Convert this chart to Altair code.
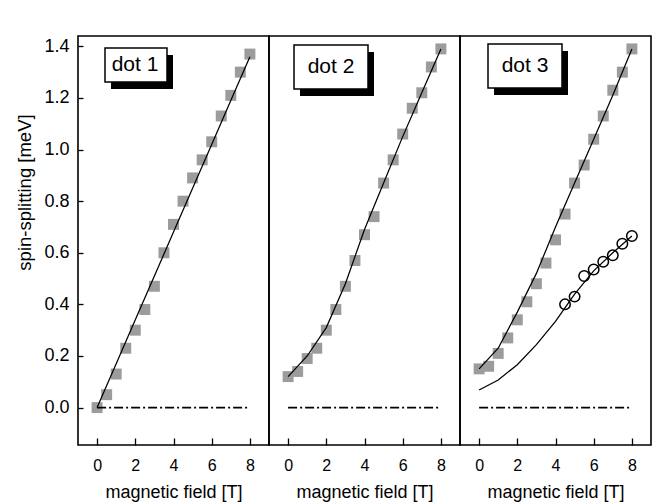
import altair as alt
import pandas as pd

FONT = "Liberation Sans"

# ---- data ----
field = [0, 0.5, 1, 1.5, 2, 2.5, 3, 3.5, 4, 4.5, 5, 5.5, 6, 6.5, 7, 7.5, 8]
dot1_split = [0.0, 0.05, 0.13, 0.23, 0.30, 0.38, 0.47, 0.60, 0.71, 0.80, 0.89, 0.96, 1.03, 1.13, 1.21, 1.30, 1.37]
dot2_split = [0.12, 0.14, 0.19, 0.23, 0.30, 0.38, 0.47, 0.57, 0.67, 0.74, 0.87, 0.96, 1.06, 1.16, 1.22, 1.32, 1.39]
dot3_split = [0.15, 0.16, 0.21, 0.27, 0.34, 0.41, 0.48, 0.56, 0.65, 0.75, 0.87, 0.94, 1.04, 1.13, 1.23, 1.30, 1.39]

fit_field = [0, 1, 2, 3, 4, 5, 6, 7, 8]
dot1_fit = [0.0, 0.17, 0.34, 0.51, 0.68, 0.85, 1.02, 1.19, 1.36]
dot2_fit = [0.12, 0.20, 0.31, 0.48, 0.69, 0.87, 1.05, 1.22, 1.39]
dot3_fit = [0.15, 0.23, 0.37, 0.52, 0.70, 0.87, 1.04, 1.21, 1.39]
dot3_fit_low = [0.068, 0.107, 0.166, 0.244, 0.334, 0.44, 0.53, 0.60, 0.665]

circle_field = [4.5, 5, 5.5, 6, 6.5, 7, 7.5, 8]
dot3_circles = [0.40, 0.43, 0.51, 0.535, 0.565, 0.59, 0.635, 0.665]

zero_field = [0, 8]
zero_level = [0, 0]

labels = ["dot 1", "dot 2", "dot 3"]
x_ticks = [0, 2, 4, 6, 8]
y_ticks = [0.0, 0.2, 0.4, 0.6, 0.8, 1.0, 1.2, 1.4]

# ---- layout ----
W, H = 191, 409
XDOM = [-1, 9]
YDOM = [-0.145, 1.44]

# label box geometry per panel (pixels within panel): x, x2, y, y2, text x, text y
boxes = [
    (27, 89, 12, 46, 57, 29),
    (25, 99, 9, 53, 62, 31),
    (28, 102, 8, 52, 65, 30),
]

xscale = alt.Scale(domain=XDOM, nice=False, zero=False)
yscale = alt.Scale(domain=YDOM, nice=False, zero=False)

xaxis = alt.Axis(
    values=x_ticks, title="magnetic field [T]", grid=False, domain=False,
    offset=-7, tickSize=7, tickWidth=1.3, tickColor="black",
    labelPadding=12, labelFontSize=16, labelFont=FONT, labelColor="black",
    titleFont=FONT, titleFontSize=18, titleFontWeight="normal", titleColor="black",
    titlePadding=10, labelFlush=False,
)

yaxis = alt.Axis(
    values=y_ticks, format=".1f", title="spin-splitting [meV]", grid=False, domain=False,
    offset=-5, tickSize=5, tickWidth=1.3, tickColor="black",
    labelPadding=9, labelFontSize=18, labelFont=FONT, labelColor="black",
    titleFont=FONT, titleFontSize=18.5, titleFontWeight="normal", titleColor="black",
    titleAngle=270, titleBaseline="middle", titleAlign="center",
    titleX=-59, titleY=156, labelFlush=False,
)


def panel(i, split, fit, extra_fit=None, circles=None):
    sq = pd.DataFrame({"B": field, "E": split})
    ft = pd.DataFrame({"B": fit_field, "E": fit})
    zr = pd.DataFrame({"B": zero_field, "E": zero_level})
    lb = pd.DataFrame({"label": [labels[i]]})
    bx, bx2, by, by2, tx, ty = boxes[i]

    yax = yaxis if i == 0 else None

    base_sq = alt.Chart(sq).mark_square(size=120, color="#9c9c9c", opacity=1).encode(
        x=alt.X("B:Q", scale=xscale, axis=xaxis),
        y=alt.Y("E:Q", scale=yscale, axis=yax),
    )
    zero = alt.Chart(zr).mark_line(color="black", strokeWidth=1.6, strokeDash=[9, 3, 2, 3]).encode(
        x=alt.X("B:Q", scale=xscale), y=alt.Y("E:Q", scale=yscale)
    )
    line = alt.Chart(ft).mark_line(color="black", strokeWidth=1.25).encode(
        x=alt.X("B:Q", scale=xscale), y=alt.Y("E:Q", scale=yscale)
    )
    layers = [base_sq, zero, line]
    if extra_fit is not None:
        ft2 = pd.DataFrame({"B": fit_field, "E": extra_fit})
        layers.append(
            alt.Chart(ft2).mark_line(color="black", strokeWidth=1.25).encode(
                x=alt.X("B:Q", scale=xscale), y=alt.Y("E:Q", scale=yscale)
            )
        )
    if circles is not None:
        cc = pd.DataFrame({"B": circle_field, "E": circles})
        layers.append(
            alt.Chart(cc).mark_point(shape="circle", size=110, filled=False, color="black",
                                     strokeWidth=1.5, opacity=1).encode(
                x=alt.X("B:Q", scale=xscale), y=alt.Y("E:Q", scale=yscale)
            )
        )
    shadow = alt.Chart(lb).mark_rect(color="black").encode(
        x=alt.value(bx + 6), x2=alt.value(bx2 + 6), y=alt.value(by + 7), y2=alt.value(by2 + 7)
    )
    box = alt.Chart(lb).mark_rect(fill="white", stroke="black", strokeWidth=1.5).encode(
        x=alt.value(bx), x2=alt.value(bx2), y=alt.value(by), y2=alt.value(by2)
    )
    txt = alt.Chart(lb).mark_text(font=FONT, fontSize=21, color="black", align="center",
                                  baseline="middle").encode(
        x=alt.value(tx), y=alt.value(ty), text="label:N"
    )
    layers += [shadow, box, txt]
    return alt.layer(*layers).properties(width=W, height=H)


p1 = panel(0, dot1_split, dot1_fit)
p2 = panel(1, dot2_split, dot2_fit)
p3 = panel(2, dot3_split, dot3_fit, extra_fit=dot3_fit_low, circles=dot3_circles)

chart = alt.hconcat(p1, p2, p3, spacing=0, bounds="flush").properties(
    padding={"left": 14, "top": 35, "right": 10, "bottom": 5},
    background="white",
).configure_view(stroke="black", strokeWidth=1.6)

chart.save("out.html", embed_options={"renderer": "svg", "actions": False})
